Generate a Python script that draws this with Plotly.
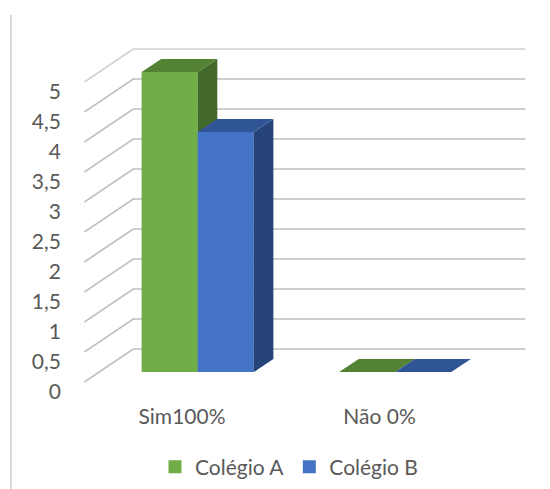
import plotly.graph_objects as go

# ---- data ----
categories = ["Sim100%", "Não 0%"]
series_names = ["Colégio A", "Colégio B"]
colegio_a = [5, 0]
colegio_b = [4, 0]
y_ticks = [0, 0.5, 1, 1.5, 2, 2.5, 3, 3.5, 4, 4.5, 5]

# ---- styling ----
face_colors = [
    dict(front="#70AD47", top="#548235", side="#43682B"),
    dict(front="#4472C4", top="#2F5597", side="#264478"),
]
TEXT = "#595959"
FONT = "Lato"

# oblique projection of the depth axis (z from 0 = floor front to 1 = back wall)
DEPTH_X = 0.248   # category units per unit depth
DEPTH_Y = 0.55    # value units per unit depth
BAR_W = 0.284     # bar width in category units
Z_FRONT, Z_BACK = 0.3, 0.7


def proj(c, v, z):
    return c + z * DEPTH_X, v + z * DEPTH_Y


def poly(pts):
    xs, ys = [], []
    for c, v, z in pts:
        x, y = proj(c, v, z)
        xs.append(x)
        ys.append(y)
    xs.append(xs[0])
    ys.append(ys[0])
    return xs, ys


fig = go.Figure()

# wall gridlines (side wall + back wall)
for t in y_ticks:
    xs, ys = [], []
    for c, z in [(-0.5, 0), (-0.5, 1), (1.485, 1)]:
        x, y = proj(c, t, z)
        xs.append(x)
        ys.append(y)
    fig.add_trace(go.Scatter(
        x=xs, y=ys, mode="lines",
        line=dict(color="#D0D0D0" if t == y_ticks[-1] else "#BFBFBF", width=1.7),
        hoverinfo="skip", showlegend=False))

# 3D columns
series_values = [colegio_a, colegio_b]
for k, cat in enumerate(categories):
    for i, vals in enumerate(series_values):
        v = vals[k]
        l = k - BAR_W + i * BAR_W
        r = l + BAR_W
        col = face_colors[i]
        faces = [
            ([(l, 0, Z_FRONT), (r, 0, Z_FRONT), (r, v, Z_FRONT), (l, v, Z_FRONT)], col["front"]),
            ([(r, 0, Z_FRONT), (r, 0, Z_BACK), (r, v, Z_BACK), (r, v, Z_FRONT)], col["side"]),
            ([(l, v, Z_FRONT), (r, v, Z_FRONT), (r, v, Z_BACK), (l, v, Z_BACK)], col["top"]),
        ]
        for pts, fc in faces:
            xs, ys = poly(pts)
            fig.add_trace(go.Scatter(
                x=xs, y=ys, mode="lines", fill="toself", fillcolor=fc,
                line=dict(width=0, color=fc), hoverinfo="skip",
                showlegend=False))

# legend entries
for i, name in enumerate(series_names):
    fig.add_trace(go.Scatter(
        x=[None], y=[None], mode="markers", name=name,
        marker=dict(symbol="square", size=13, color=face_colors[i]["front"])))


def fmt(t):
    s = ("%g" % t)
    return s.replace(".", ",")


fig.update_layout(
    width=550, height=489,
    margin=dict(l=0, r=0, t=0, b=0, autoexpand=False),
    paper_bgcolor="white", plot_bgcolor="white",
    font=dict(family=FONT, size=21, color=TEXT),
    xaxis=dict(
        domain=[84 / 550, 1], range=[-0.5013, 1.8582],
        tickvals=list(range(len(categories))), ticktext=categories,
        showgrid=False, zeroline=False, showline=False, ticks="",
        ticklabelstandoff=7, ticklabelshift=-1, fixedrange=True,
        automargin=False,
    ),
    yaxis=dict(
        domain=[(489 - 395) / 489, 1], range=[-0.21667, 6.36667],
        tickvals=y_ticks, ticktext=[fmt(t) for t in y_ticks],
        showgrid=False, zeroline=False, showline=False, ticks="",
        ticklabelstandoff=22, ticklabelshift=10, fixedrange=True,
        automargin=False,
    ),
    legend=dict(
        orientation="h", x=289 / 550, xanchor="center",
        y=1 - 467 / 489, yanchor="middle",
        font=dict(family=FONT, size=21, color=TEXT),
        itemwidth=30,
    ),
    shapes=[dict(
        type="line", xref="paper", yref="paper",
        x0=11 / 550, x1=11 / 550, y0=0, y1=1 - 15 / 489,
        line=dict(color="#D9D9D9", width=2),
    )],
)

fig.write_html("out.html")
